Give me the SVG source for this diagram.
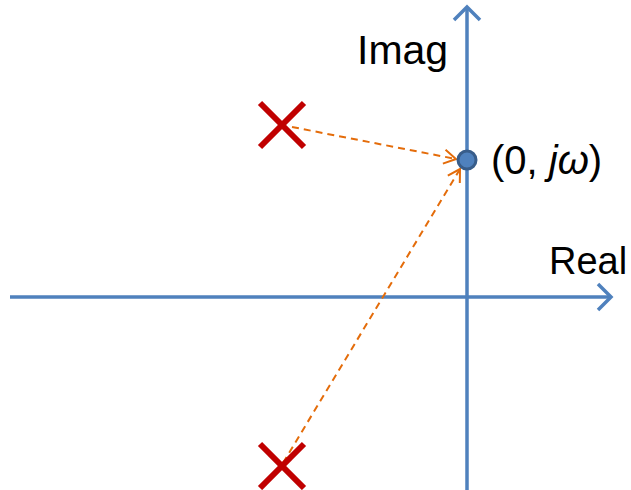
<svg xmlns="http://www.w3.org/2000/svg" width="631" height="490" viewBox="0 0 631 490">
<style>
.axis{stroke:#4F81BD;stroke-width:3.5;fill:none}
.cross{stroke:#C00000;stroke-width:6;stroke-linecap:butt}
.dash{stroke:#E46C0A;stroke-width:2;stroke-dasharray:7,5;fill:none}
.lbl{font-family:"Liberation Sans",Arial,sans-serif;fill:#000}
</style>
<defs>
<marker id="ah" viewBox="0 0 16 16" refX="14" refY="8" markerWidth="16" markerHeight="16" markerUnits="userSpaceOnUse" orient="auto">
<path d="M2,1 L14,8 L2,15" fill="none" stroke="#E46C0A" stroke-width="2"/>
</marker>
</defs>
<g id="connectors">
<g id="real-axis">
<line class="axis" x1="10" y1="297" x2="611" y2="297"/>
<polyline class="axis" points="598,284 611,297 598,310"/>
</g>
<g id="imag-axis">
<line class="axis" x1="467" y1="490" x2="467" y2="7"/>
<polyline class="axis" points="454,20 467,7 480,20"/>
</g>
<line class="dash" x1="292" y1="127" x2="456" y2="159" marker-end="url(#ah)"/>
<line class="dash" x1="283" y1="463" x2="460" y2="169" marker-end="url(#ah)"/>
</g>
<g id="pole-upper">
<line class="cross" x1="260" y1="103" x2="304" y2="147"/>
<line class="cross" x1="304" y1="103" x2="260" y2="147"/>
</g>
<g id="pole-lower">
<line class="cross" x1="260" y1="444" x2="304" y2="488"/>
<line class="cross" x1="304" y1="444" x2="260" y2="488"/>
</g>
<g id="point">
<circle cx="467" cy="160" r="9" fill="#4F81BD" stroke="#385D8A" stroke-width="3"/>
<text class="lbl" x="491" y="174" style="font-size:40px">(0, <tspan font-style="italic">jω</tspan>)</text>
</g>
<g id="labels">
<text class="lbl" x="357" y="64" style="font-size:41px">Imag</text>
<text class="lbl" x="549" y="274" style="font-size:38px">Real</text>
</g>
</svg>
